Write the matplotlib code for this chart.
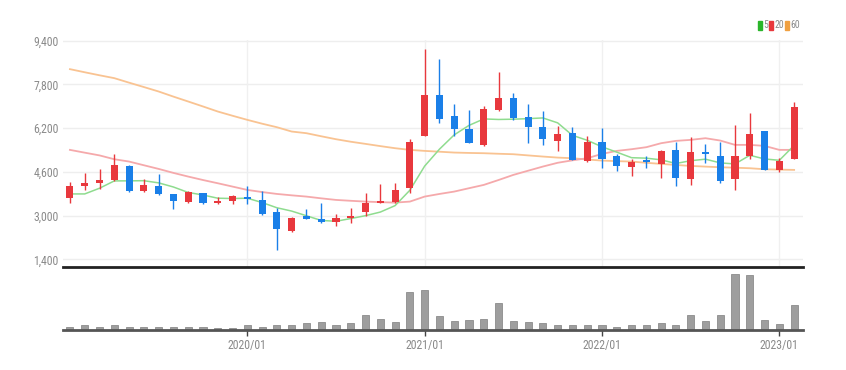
import numpy as np
import matplotlib
matplotlib.use("Agg")
import matplotlib.pyplot as plt
from matplotlib.patches import Rectangle
from matplotlib import font_manager

# narrow font for the tick labels, if one is installed
names = {f.name for f in font_manager.fontManager.ttflist}
stretches = {(f.name, f.stretch) for f in font_manager.fontManager.ttflist}
font_name, font_stretch = 'DejaVu Sans', 'normal'
for n in ['Liberation Sans Narrow', 'Roboto Condensed', 'Open Sans Condensed', 'Noto Sans Condensed']:
    if n in names:
        font_name = n
        break
else:
    for n, s in stretches:
        if s in ('condensed', 'semi-condensed', 'extra-condensed') and n in ('DejaVu Sans', 'Noto Sans', 'Roboto', 'Open Sans'):
            font_name, font_stretch = n, s
            break
plt.rcParams['font.family'] = [font_name, 'DejaVu Sans']
plt.rcParams['font.stretch'] = font_stretch

#-------------------------------------------------------------------------
# Monthly candles 2019/01 .. 2023/02
#-------------------------------------------------------------------------
months = ['2019/01', '2019/02', '2019/03', '2019/04', '2019/05', '2019/06', '2019/07', '2019/08',
          '2019/09', '2019/10', '2019/11', '2019/12', '2020/01', '2020/02', '2020/03', '2020/04',
          '2020/05', '2020/06', '2020/07', '2020/08', '2020/09', '2020/10', '2020/11', '2020/12',
          '2021/01', '2021/02', '2021/03', '2021/04', '2021/05', '2021/06', '2021/07', '2021/08',
          '2021/09', '2021/10', '2021/11', '2021/12', '2022/01', '2022/02', '2022/03', '2022/04',
          '2022/05', '2022/06', '2022/07', '2022/08', '2022/09', '2022/10', '2022/11', '2022/12',
          '2023/01', '2023/02']

opens = [3633, 4096, 4206, 4304, 4828, 3913, 4096, 3791, 3511, 3816, 3450, 3535, 3694, 3572,
         3120, 2449, 2986, 2876, 2754, 2901, 3145, 3450, 3511, 3999, 5926, 7415, 6658, 6158,
         5585, 6866, 7317, 6622, 6231, 5743, 6012, 4999, 5707, 5194, 4792, 5036, 4877, 5402,
         4340, 5341, 5194, 4340, 5182, 6097, 4670, 5072]
highs = [4243, 4548, 4706, 5243, 4853, 4340, 4523, 3791, 3913, 3816, 3669, 3755, 4096, 3901,
         3267, 2962, 3230, 3474, 3059, 3291, 3840, 4145, 4206, 5792, 9098, 8732, 7073, 6866,
         7012, 8232, 7500, 7073, 6841, 6280, 6232, 5914, 6219, 5255, 5072, 5194, 5402, 5707,
         5865, 5621, 5682, 6317, 6744, 6097, 5097, 7146]
lows = [3474, 3938, 3962, 4267, 3877, 3877, 3755, 3230, 3474, 3413, 3413, 3413, 3413, 3023,
        1742, 2413, 2864, 2718, 2632, 2742, 2986, 3450, 3450, 3816, 5926, 6378, 5914, 5645,
        5548, 6829, 6500, 5670, 5585, 5377, 5036, 4975, 4755, 4645, 4462, 4731, 4365, 4084,
        4121, 4938, 4182, 3938, 5060, 4670, 4609, 5072]
closes = [4096, 4182, 4304, 4853, 3913, 4121, 3791, 3547, 3852, 3450, 3535, 3730, 3608, 3059,
          2498, 2925, 2876, 2754, 2901, 2998, 3450, 3535, 3938, 5707, 7415, 6536, 6158, 5670,
          6890, 7317, 6585, 6256, 5804, 5987, 5036, 5682, 5060, 4828, 4975, 4950, 5377, 4389,
          5341, 5255, 4267, 5182, 5975, 4670, 5011, 6988]

# moving averages as shown on the chart
ma5 = [3791, 3791, 3999, 4267, 4270, 4275, 4196, 4045, 3845, 3752, 3635, 3623, 3635, 3476,
       3286, 3164, 2993, 2822, 2791, 2891, 2996, 3128, 3364, 3926, 4809, 5426, 5951, 6297,
       6534, 6514, 6524, 6544, 6570, 6390, 5934, 5753, 5514, 5319, 5116, 5099, 5038, 4904,
       5006, 5062, 4926, 4887, 5204, 5070, 5021, 5565]
ma20 = [5402, 5300, 5200, 5060, 4975, 4840, 4706, 4560, 4426, 4300, 4182, 4060, 3938, 3860,
        3791, 3740, 3694, 3630, 3572, 3540, 3511, 3490, 3474, 3511, 3694, 3790, 3877, 4000,
        4121, 4300, 4487, 4640, 4792, 4930, 5020, 5097, 5255, 5365, 5426, 5500, 5646, 5731,
        5768, 5829, 5743, 5585, 5585, 5548, 5402, 5402]
ma60 = [8354, 8240, 8130, 8025, 7860, 7700, 7537, 7350, 7171, 6990, 6805, 6650, 6500, 6360,
        6231, 6073, 6012, 5900, 5792, 5700, 5621, 5540, 5463, 5402, 5365, 5335, 5304, 5290,
        5280, 5260, 5243, 5200, 5158, 5120, 5097, 5050, 5011, 4990, 4975, 4930, 4889, 4850,
        4816, 4790, 4767, 4750, 4731, 4694, 4680, 4670]

# volume (thousand shares)
volumes = [75, 108, 75, 125, 75, 58, 58, 58, 58, 58, 33, 33, 118, 75, 125, 108, 158, 192,
           118, 168, 375, 275, 200, 942, 992, 333, 208, 242, 275, 668, 208, 192, 158, 125,
           125, 108, 125, 68, 108, 108, 158, 125, 375, 208, 358, 1382, 1358, 250, 150, 608]

yticks = [1400, 3000, 4600, 6200, 7800, 9400]
xtick_labels = ['2020/01', '2021/01', '2022/01', '2023/01']

UP = '#e8383d'
DOWN = '#1a7fe8'
GRID = '#eeeeee'
LABEL = '#8a8a8a'

x = np.arange(1, len(months) + 1)
xtick_pos = [months.index(m) + 1 for m in xtick_labels]

W, H = 846, 370
fig = plt.figure(figsize=(W / 100, H / 100), dpi=100)

#-------------------------------------------------------------------------
# Price panel
#-------------------------------------------------------------------------
ax = fig.add_axes([63 / W, (H - 266.7) / H, 740 / W, (266.7 - 40) / H])
ax.set_xlim(0.53, 50.6)
ax.set_ylim(1130, 9420)

for t in yticks:
    ax.axhline(t, color=GRID, lw=1, zorder=0)
for p in xtick_pos:
    ax.axvline(p, color='#f0f0f0', lw=1, zorder=0)

ax.plot(x, ma60, color='#f9c392', lw=1.3, zorder=1)
ax.plot(x, ma20, color='#f5a9ab', lw=1.3, zorder=1)
ax.plot(x, ma5, color='#8fdc8f', lw=1.1, zorder=1)

o = np.array(opens); c = np.array(closes)
colors = [UP if cc >= oo else DOWN for oo, cc in zip(o, c)]
bottoms = np.minimum(o, c)
heights = np.maximum(np.abs(c - o), 50)
ax.vlines(x, lows, highs, colors=colors, lw=1, zorder=2)
ax.bar(x, heights, bottom=bottoms, width=0.48, color=colors, zorder=3)

ax.set_yticks(yticks)
ax.set_yticklabels([f'{t:,}' for t in yticks], fontsize=8.5, color=LABEL)
ax.set_xticks([])
ax.tick_params(axis='y', length=0, pad=3)
for s in ['top', 'right', 'left']:
    ax.spines[s].set_visible(False)
ax.spines['bottom'].set_color('#222222')
ax.spines['bottom'].set_linewidth(2)

#-------------------------------------------------------------------------
# Volume panel
#-------------------------------------------------------------------------
axv = fig.add_axes([63 / W, (H - 329.5) / H, 740 / W, (329.5 - 270) / H])
axv.set_xlim(0.53, 50.6)
axv.set_ylim(0, 1490)
axv.bar(x, volumes, width=0.48, color='#9e9e9e', edgecolor='#8c8c8c', lw=0.6)
axv.set_yticks([])
axv.set_xticks(xtick_pos)
axv.set_xticklabels(xtick_labels, fontsize=8.5, color=LABEL)
axv.tick_params(axis='x', length=4, width=1, color='#444444', pad=3)
for s in ['top', 'right', 'left']:
    axv.spines[s].set_visible(False)
axv.spines['bottom'].set_color('#555555')
axv.spines['bottom'].set_linewidth(2)

#-------------------------------------------------------------------------
# Legend (top right)
#-------------------------------------------------------------------------
legend_items = [('5', '#2ab52a', 758), ('20', '#e8383d', 769), ('60', '#f0a040', 785)]
for lab, col, px in legend_items:
    fig.patches.append(Rectangle((px / W, (H - 30) / H), 4 / W, 9 / H,
                                 transform=fig.transFigure, color=col))
    fig.text((px + 5) / W, (H - 25.5) / H, lab, fontsize=7, color=LABEL, va='center')

plt.savefig('out.png', dpi=100)
